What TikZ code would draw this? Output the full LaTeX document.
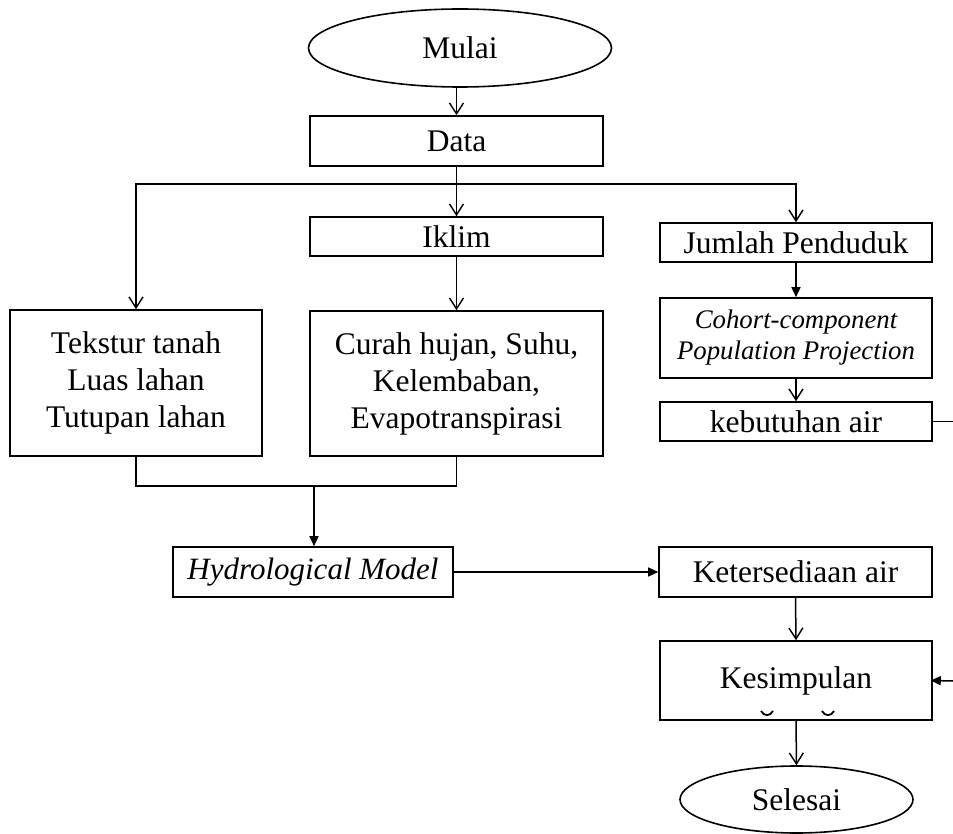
\documentclass[tikz,border=0pt]{standalone}
\usepackage{fontspec}
\setmainfont{Liberation Serif}
\usetikzlibrary{arrows.meta,shapes.geometric}
\begin{document}
\begin{tikzpicture}[x=1pt,y=-1pt,
  every node/.style={font=\fontsize{31.5}{37}\selectfont, inner sep=0pt, align=center},
  box/.style={draw, line width=1.6pt, rectangle},
  oval/.style={draw, line width=1.6pt, ellipse},
  conn/.style={line width=1.5pt},
  openarr/.style={conn, -{Straight Barb[length=11pt,width=14pt,line width=1.4pt]}},
  fillarr/.style={conn, -{Triangle[length=10pt,width=9pt]}}
]
\useasboundingbox (0,0) rectangle (953,834);
\node[oval, minimum width=303pt, minimum height=78pt] (mulai) at (460,48) {Mulai};
\node[box, minimum width=293pt, minimum height=50pt] (data) at (456.5,141) {Data};
\node[box, minimum width=293pt, minimum height=39pt] (iklim) at (456.5,236.5) {Iklim};
\node[box, minimum width=272pt, minimum height=39pt] (jumlah) at (796,242.5) {Jumlah Penduduk};
\node[box, minimum width=252pt, minimum height=146pt] (tekstur) at (136,383) {Tekstur tanah\\Luas lahan\\Tutupan lahan};
\node[box, minimum width=293pt, minimum height=145pt] (curah) at (456.5,383.5) {Curah hujan, Suhu,\\Kelembaban,\\Evapotranspirasi};
\node[box, minimum width=272pt, minimum height=80pt, font=\fontsize{26.8}{31}\selectfont\itshape] (cohort) at (796,338) {Cohort-component\\Population Projection};
\node[box, minimum width=272pt, minimum height=39pt] (kebutuhan) at (796,421.5) {kebutuhan air};
\node[box, minimum width=280pt, minimum height=50pt, font=\fontsize{31}{37}\selectfont\itshape] (hydro) at (313,572) {Hydrological Model};
\node[box, minimum width=273pt, minimum height=50pt] (keter) at (795.5,572) {Ketersediaan air};
\node[box, minimum width=272pt, minimum height=79pt] (kesim) at (796,680.5) {Kesimpulan};
\node[oval, minimum width=233pt, minimum height=67pt] (selesai) at (796.5,799.5) {Selesai};

\coordinate (split) at (456.5,184);
\coordinate (join) at (314,486);
\coordinate (kebend) at (953,421.5);
\coordinate (kesstart) at (953,681);

\draw[openarr] (mulai.south -| data.north) -- (data.north);
\draw[openarr] (data.south) -- (iklim.north);
\draw[openarr] (split) -| (tekstur.north);
\draw[openarr] (split) -| (jumlah.north);
\draw[openarr] (iklim.south) -- (curah.north);
\draw[fillarr] (jumlah.south) -- (cohort.north);
\draw[openarr] (cohort.south) -- (kebutuhan.north);
\draw[conn] (kebutuhan.east) -- (kebend);
\draw[conn] (tekstur.south) |- (join) -| (curah.south);
\draw[fillarr] (join) -- (join |- hydro.north);
\draw[fillarr] (hydro.east) -- (keter.west);
\draw[openarr] (keter.south) -- (kesim.north);
\draw[fillarr, shorten >=-2pt] (kesstart) -- (kesim.east);
\draw[openarr] (kesim.south) -- (selesai.north);

\draw[line width=1.8pt] (761,711) .. controls (764,716.5) and (770,716.5) .. (773,711);
\draw[line width=1.8pt] (822,711) .. controls (825,716.5) and (831,716.5) .. (834,711);
\end{tikzpicture}
\end{document}
